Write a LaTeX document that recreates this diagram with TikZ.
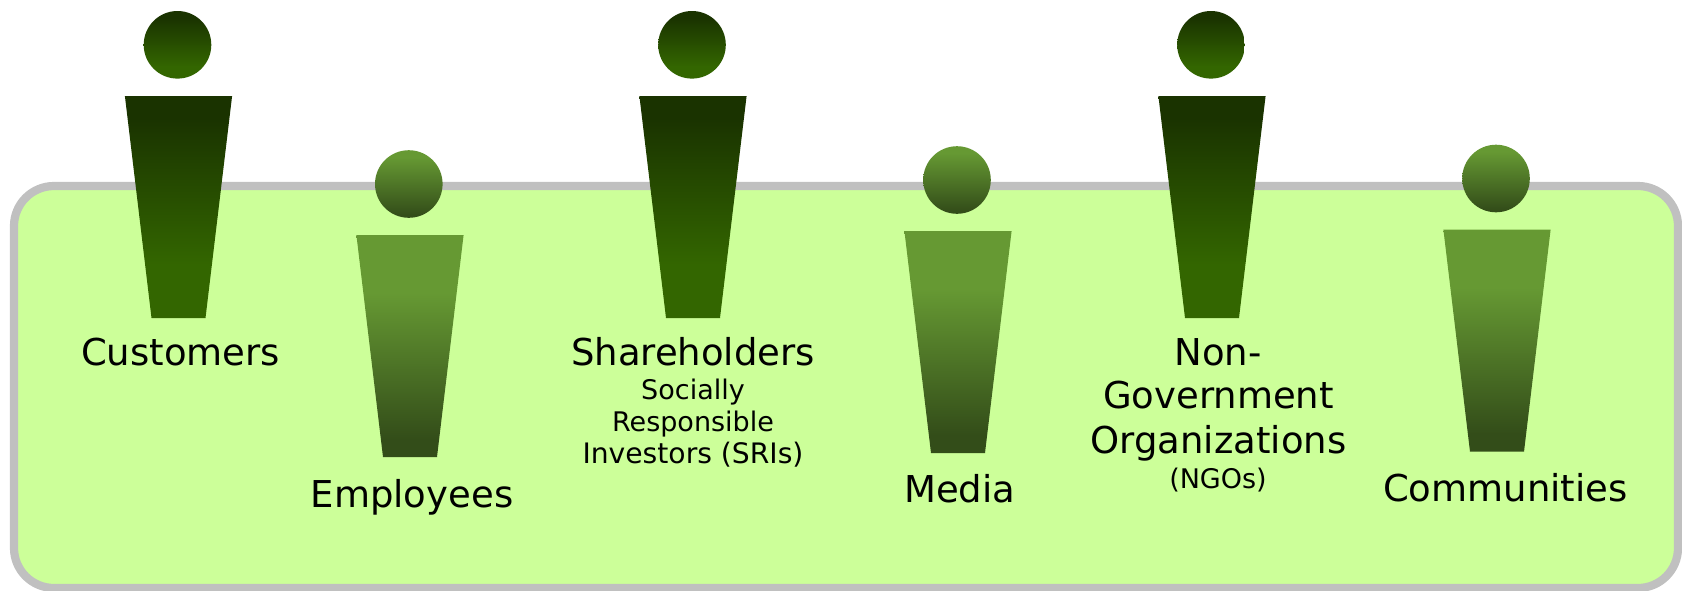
\documentclass[tikz,border=0pt]{standalone}
\usepackage{fontspec}
\setmainfont{DejaVu Sans}
\definecolor{panelfill}{HTML}{CCFF99}
\definecolor{panelline}{HTML}{C0C0C0}
\definecolor{darktop}{HTML}{1A3300}
\definecolor{darkbot}{HTML}{336600}
\definecolor{lighttop}{HTML}{669933}
\definecolor{lightbot}{HTML}{334D19}
\pgfdeclareverticalshading{darkbodyshade}{100bp}{color(0bp)=(darkbot); color(37bp)=(darkbot); color(70bp)=(darktop); color(100bp)=(darktop)}
\pgfdeclareverticalshading{lightbodyshade}{100bp}{color(0bp)=(lightbot); color(29bp)=(lightbot); color(62bp)=(lighttop); color(100bp)=(lighttop)}
\pgfdeclareverticalshading{darkheadshade}{100bp}{color(0bp)=(darkbot); color(34bp)=(darkbot); color(70bp)=(darktop); color(100bp)=(darktop)}
\pgfdeclareverticalshading{lightheadshade}{100bp}{color(0bp)=(lightbot); color(27bp)=(lightbot); color(70bp)=(lighttop); color(100bp)=(lighttop)}
\tikzset{
  biglabel/.style={anchor=base,align=center,inner sep=0pt,text=black,font=\fontsize{37}{44}\selectfont},
  smalllabel/.style={anchor=base,align=center,inner sep=0pt,text=black,font=\fontsize{27}{33}\selectfont},
  widelabel/.style={anchor=base,align=center,inner sep=0pt,text=black,font=\fontsize{28.2}{33}\selectfont},
}
\newcommand{\personfig}[5]{% tone, head x, head y, body x, body top y
  \shade[shading=#1headshade] (#2,#3) circle[radius=33.8];
  \shade[shading=#1bodyshade] ({#4-53.6},#5) -- ({#4+53.6},#5) -- ({#4+27},{#5+222}) -- ({#4-27},{#5+222}) -- cycle;
}
\begin{document}
\begin{tikzpicture}[x=1pt,y=-1pt]
\useasboundingbox (0,0) rectangle (1682,590);
\fill[white] (0,0) rectangle (1682,590);
\draw[panelline,fill=panelfill,line width=8.2pt,rounded corners=40pt] (14,186) rectangle (1678,588);
\personfig{dark}{177.5}{44.8}{178.5}{96}
\personfig{light}{408.8}{184}{410}{235}
\personfig{dark}{692}{44.8}{693}{96}
\personfig{light}{957}{180}{958}{231}
\personfig{dark}{1211}{44.8}{1212}{96}
\personfig{light}{1496}{178.5}{1497}{229.7}
\node[biglabel] (customers) at (180.5,365) {Customers};
\node[biglabel] (employees) at (412,507) {Employees};
\node[biglabel] (shareholders) at (693,365) {Shareholders};
\node[smalllabel] (socially) at (693,399) {Socially};
\node[smalllabel] (responsible) at (693,431) {Responsible};
\node[widelabel] (investors) at (693,463) {Investors (SRIs)};
\node[biglabel] (media) at (959.8,502) {Media};
\node[biglabel] (non) at (1218,365) {Non-};
\node[biglabel] (government) at (1218.5,408) {Government};
\node[biglabel] (organizations) at (1218.5,453) {Organizations};
\node[smalllabel] (ngos) at (1218,488) {(NGOs)};
\node[biglabel] (communities) at (1505.3,501.5) {Communities};
\end{tikzpicture}
\end{document}
